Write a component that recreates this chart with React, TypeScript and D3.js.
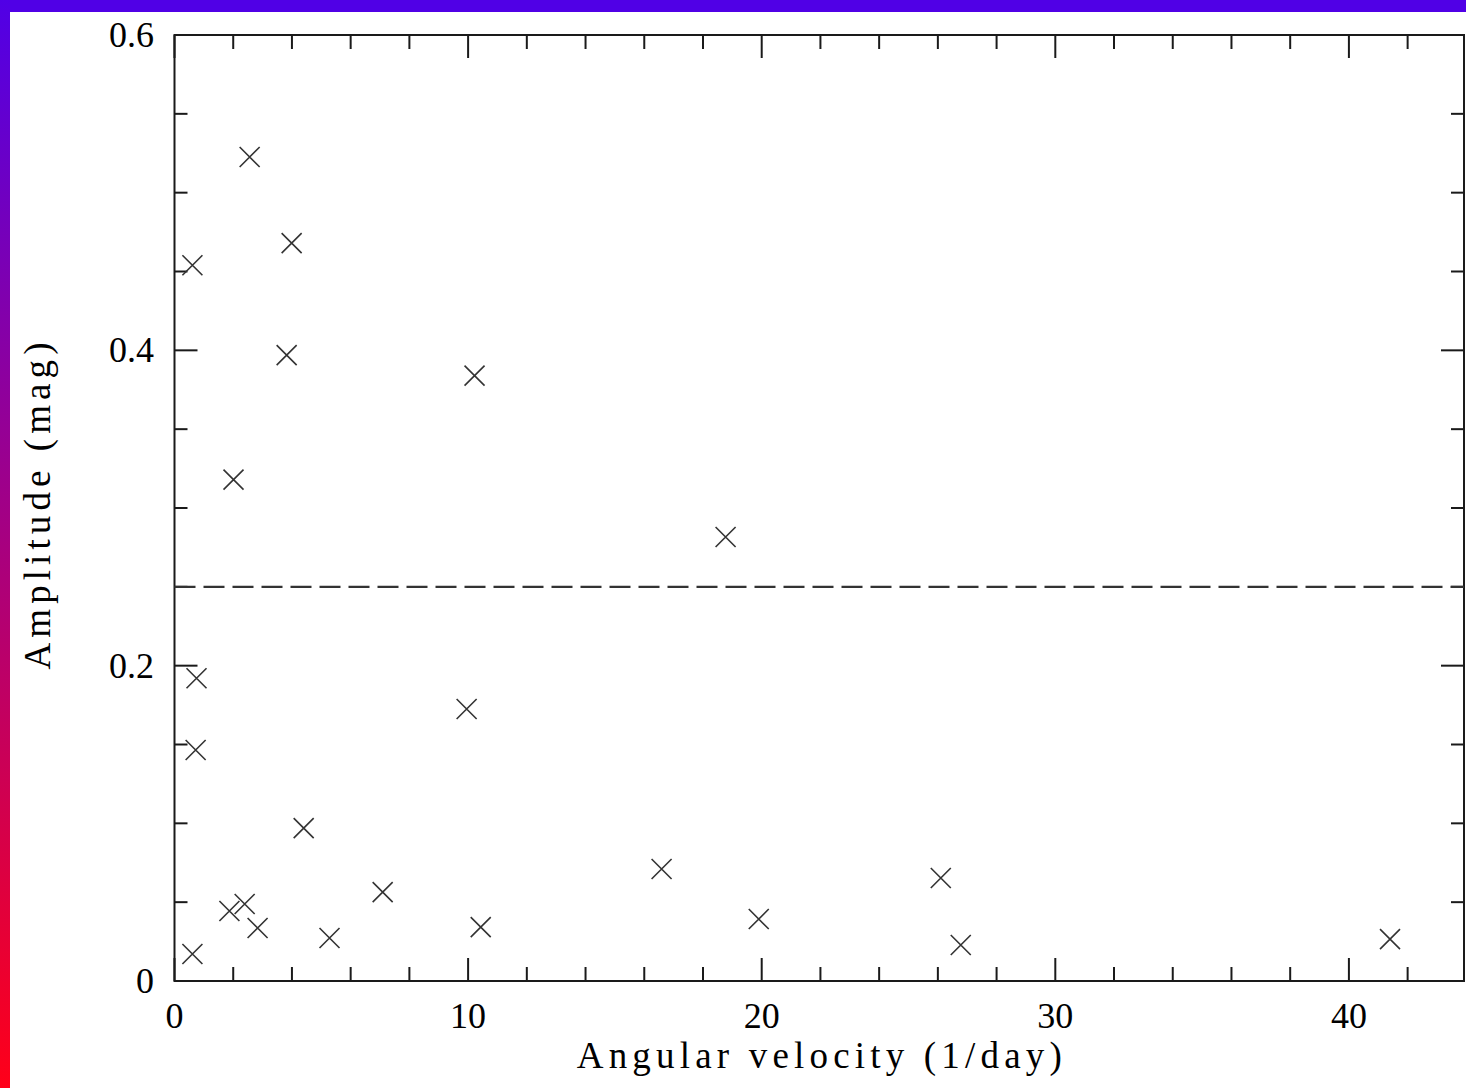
import React, { useEffect, useRef } from 'react';
import * as d3 from 'd3';

// amplitude vs angular velocity
const angularVelocity = [
  0.61, 2.56, 3.99, 3.82, 10.22, 2.01, 18.77, 0.75, 0.72, 9.95, 4.4, 7.09,
  16.59, 26.1, 1.87, 2.39, 2.83, 5.28, 10.43, 19.9, 0.61, 26.78, 41.4,
];
const amplitude = [
  0.454, 0.5226, 0.468, 0.397, 0.384, 0.318, 0.2816, 0.192, 0.1465, 0.1725, 0.097, 0.0564,
  0.071, 0.0653, 0.0444, 0.0488, 0.0336, 0.0273, 0.0342, 0.0393, 0.0171, 0.0228, 0.0266,
];
const threshold = 0.25;

const xMajorTicks = [0, 10, 20, 30, 40];
const xMinorStep = 2;
const yMajorTicks = [0, 0.2, 0.4, 0.6];
const yMinorStep = 0.05;

const W = 1466;
const H = 1088;

export default function App() {
  const svgRef = useRef<SVGSVGElement | null>(null);

  useEffect(() => {
    const svg = d3.select(svgRef.current);
    svg.selectAll('*').remove();

    const left = 174.5, right = 1464, top = 35, bottom = 981;
    const x = d3.scaleLinear().domain([0, 43.92]).range([left, right]);
    const y = d3.scaleLinear().domain([0, 0.6]).range([bottom, top]);

    // background + coloured border bands
    const defs = svg.append('defs');
    const grad = defs.append('linearGradient')
      .attr('id', 'band').attr('x1', 0).attr('y1', 0).attr('x2', 0).attr('y2', 1);
    grad.append('stop').attr('offset', '0%').attr('stop-color', 'rgb(80,0,230)');
    grad.append('stop').attr('offset', '100%').attr('stop-color', 'rgb(255,0,25)');

    svg.append('rect').attr('width', W).attr('height', H).attr('fill', '#fff');
    svg.append('rect').attr('x', 0).attr('y', 0).attr('width', W).attr('height', 12).attr('fill', 'rgb(80,0,230)');
    svg.append('rect').attr('x', 0).attr('y', 0).attr('width', 10).attr('height', H).attr('fill', 'url(#band)');

    const ink = '#1a1a1a';
    const g = svg.append('g');

    // ticks
    const xMinor = d3.range(0, 43.92, xMinorStep);
    xMinor.forEach(v => {
      const len = xMajorTicks.includes(v) ? 23 : 14;
      g.append('line').attr('x1', x(v)).attr('x2', x(v)).attr('y1', bottom).attr('y2', bottom - len)
        .attr('stroke', ink).attr('stroke-width', 2);
      g.append('line').attr('x1', x(v)).attr('x2', x(v)).attr('y1', top).attr('y2', top + len)
        .attr('stroke', ink).attr('stroke-width', 2);
    });
    const yMinor = d3.range(0, 0.6001, yMinorStep);
    yMinor.forEach(v => {
      const major = yMajorTicks.some(t => Math.abs(t - v) < 1e-6);
      const len = major ? 23 : 13;
      g.append('line').attr('x1', left).attr('x2', left + len).attr('y1', y(v)).attr('y2', y(v))
        .attr('stroke', ink).attr('stroke-width', 2);
      g.append('line').attr('x1', right).attr('x2', right - len).attr('y1', y(v)).attr('y2', y(v))
        .attr('stroke', ink).attr('stroke-width', 2);
    });

    // frame
    g.append('rect').attr('x', left).attr('y', top).attr('width', right - left).attr('height', bottom - top)
      .attr('fill', 'none').attr('stroke', ink).attr('stroke-width', 2);

    // tick labels
    const font = '"Liberation Serif", "DejaVu Serif", serif';
    g.selectAll('.xlab').data(xMajorTicks).enter().append('text')
      .attr('x', d => x(d)).attr('y', 1028).attr('text-anchor', 'middle')
      .attr('font-family', font).attr('font-size', 36).attr('fill', '#000')
      .text(d => String(d));
    g.selectAll('.ylab').data(yMajorTicks).enter().append('text')
      .attr('x', 154).attr('y', d => y(d) + 12).attr('text-anchor', 'end')
      .attr('font-family', font).attr('font-size', 36).attr('fill', '#000')
      .text(d => (d === 0 ? '0' : d.toFixed(1)));

    // axis titles
    g.append('text').attr('x', (left + right) / 2).attr('y', 1068).attr('text-anchor', 'middle')
      .attr('font-family', font).attr('font-size', 37).attr('fill', '#000')
      .attr('textLength', 485).attr('lengthAdjust', 'spacing')
      .text('Angular velocity (1/day)');
    g.append('text').attr('transform', 'translate(50,506) rotate(-90)').attr('text-anchor', 'middle')
      .attr('font-family', font).attr('font-size', 37).attr('fill', '#000')
      .attr('textLength', 327).attr('lengthAdjust', 'spacing')
      .text('Amplitude (mag)');

    // threshold line
    g.append('line').attr('x1', left).attr('x2', right).attr('y1', y(threshold)).attr('y2', y(threshold))
      .attr('stroke', '#333').attr('stroke-width', 2.2).attr('stroke-dasharray', '21,8');

    // cross markers
    const s = 10;
    const pts = angularVelocity.map((v, i) => [x(v), y(amplitude[i])]);
    g.selectAll('.pt').data(pts).enter().append('path')
      .attr('d', d => `M${d[0] - s},${d[1] - s}L${d[0] + s},${d[1] + s}M${d[0] - s},${d[1] + s}L${d[0] + s},${d[1] - s}`)
      .attr('stroke', '#333').attr('stroke-width', 1.6).attr('fill', 'none');
  }, []);

  return (
    <div style={{ position: 'absolute', left: 0, top: 0 }}>
      <svg width={W} height={H} ref={svgRef} style={{ display: 'block' }}></svg>
    </div>
  );
}
